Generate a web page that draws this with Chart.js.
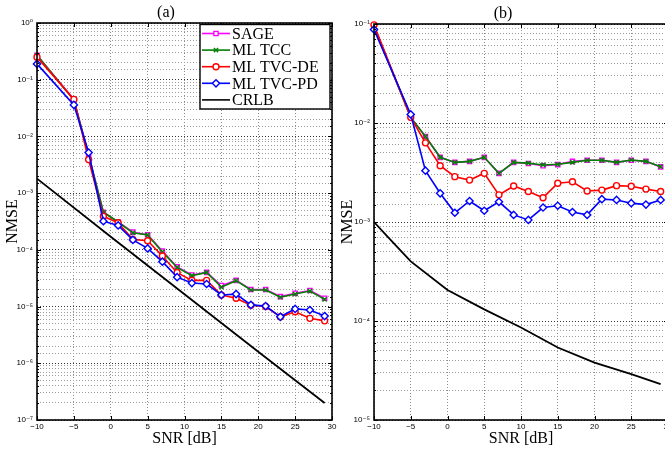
<!DOCTYPE html>
<html lang="en">
<head>
  <meta charset="UTF-8">
  <title>NMSE vs SNR</title>
  <script src="https://cdn.jsdelivr.net/npm/chart.js@4.4.1/dist/chart.umd.min.js"></script>
  <style>
    html, body { margin: 0; padding: 0; background: #fff; overflow: hidden; }
    #wrap { position: relative; width: 665px; height: 452px; overflow: hidden; }
    #chartA { position: absolute; left: 0; top: 0; }
    #chartB { position: absolute; left: 338px; top: 0; }
  </style>
</head>
<body>
<div id="wrap">
  <canvas id="chartA" width="340" height="452"></canvas>
  <canvas id="chartB" width="342" height="452"></canvas>
</div>
<script>
  // SNR points shared by both panels
  const snr = [-10, -5, -3, -1, 1, 3, 5, 7, 9, 11, 13, 15, 17, 19, 21, 23, 25, 27, 29];
  const seriesNames = ['SAGE', 'ML TCC', 'ML TVC-DE', 'ML TVC-PD', 'CRLB'];

  // panel (a)
  const sageA = [0.27, 0.045, 0.0047, 4.6e-4, 3.1e-4, 2.05e-4, 1.85e-4, 9.5e-5, 5.0e-5, 3.6e-5, 4.0e-5, 2.35e-5, 2.9e-5, 2.0e-5, 2.0e-5, 1.5e-5, 1.72e-5, 1.92e-5, 1.4e-5];
  const tccA = [0.27, 0.044, 0.0047, 4.6e-4, 3.1e-4, 2.0e-4, 1.83e-4, 9.2e-5, 4.9e-5, 3.5e-5, 4.0e-5, 2.2e-5, 2.86e-5, 1.96e-5, 1.96e-5, 1.46e-5, 1.66e-5, 1.88e-5, 1.34e-5];
  const deA = [0.25, 0.045, 0.0039, 3.9e-4, 3.0e-4, 1.53e-4, 1.45e-4, 7.8e-5, 3.96e-5, 2.9e-5, 2.9e-5, 1.6e-5, 1.4e-5, 1.06e-5, 1.0e-5, 6.6e-6, 8.1e-6, 6.2e-6, 5.6e-6];
  const pdA = [0.19, 0.036, 0.0052, 3.2e-4, 2.7e-4, 1.5e-4, 1.06e-4, 6.2e-5, 3.3e-5, 2.6e-5, 2.5e-5, 1.6e-5, 1.66e-5, 1.07e-5, 1.02e-5, 6.6e-6, 9.1e-6, 8.7e-6, 6.8e-6];
  const crlbSnrA = [-10, 0, 10, 20, 29];
  const crlbA = [1.8e-3, 1.7e-4, 1.65e-5, 1.6e-6, 2.0e-7];

  // panel (b)
  const sageB = [0.095, 0.0114, 0.0073, 0.0045, 0.0040, 0.0041, 0.0045, 0.0031, 0.0040, 0.0039, 0.0037, 0.0038, 0.0041, 0.0042, 0.0042, 0.0040, 0.0042, 0.0041, 0.0036];
  const tccB = [0.094, 0.0114, 0.0073, 0.0045, 0.0040, 0.0041, 0.0045, 0.0031, 0.0040, 0.00393, 0.00377, 0.00383, 0.0040, 0.0042, 0.0042, 0.0040, 0.00423, 0.0041, 0.00362];
  const deB = [0.098, 0.0114, 0.0063, 0.0037, 0.00287, 0.00265, 0.0031, 0.00188, 0.00231, 0.00203, 0.00176, 0.00246, 0.00255, 0.00206, 0.0021, 0.00233, 0.0023, 0.00215, 0.00203];
  const pdB = [0.088, 0.0122, 0.0033, 0.00195, 0.00124, 0.00163, 0.0013, 0.0016, 0.00118, 0.00105, 0.0014, 0.00146, 0.00126, 0.00118, 0.0017, 0.00167, 0.00155, 0.0015, 0.00167];
  const crlbSnrB = [-10, -8, -5, 0, 5, 10, 15, 20, 25, 29];
  const crlbB = [1.0e-3, 6.9e-4, 4.0e-4, 2.06e-4, 1.31e-4, 8.6e-5, 5.4e-5, 3.8e-5, 2.9e-5, 2.3e-5];

  const colors = ['#ff00ff', '#008000', '#ff0000', '#0000ff', '#000000'];
  const markers = ['rect', 'crossRot', 'circle', 'rectRot', false];

  const serif = '"Liberation Serif", "DejaVu Serif", serif';
  const sans = '"Liberation Sans", "DejaVu Sans", sans-serif';
  const sup = { '-': '⁻', '0': '⁰', '1': '¹', '2': '²', '3': '³', '4': '⁴', '5': '⁵', '6': '⁶', '7': '⁷', '8': '⁸', '9': '⁹' };

  function isDecade(v) {
    const e = Math.log10(v);
    return Math.abs(e - Math.round(e)) < 1e-6;
  }

  function makeSet(i, xs, ys) {
    return {
      label: seriesNames[i],
      data: xs.map((x, k) => ({ x: x, y: ys[k] })),
      borderColor: colors[i],
      backgroundColor: '#fff',
      borderWidth: i == 4 ? 1.8 : 1.6,
      pointStyle: markers[i],
      pointRadius: markers[i] ? (markers[i] == 'rectRot' ? 3.6 : 3) : 0,
      pointBorderColor: colors[i],
      pointBackgroundColor: '#fff',
      pointBorderWidth: 1.4,
      order: 5 - i,
      clip: false
    };
  }

  // axes box, inner tick marks and the legend
  const frame = {
    id: 'frame',
    afterDraw(chart, args, opts) {
      const ctx = chart.ctx;
      const a = chart.chartArea;
      const x = chart.scales.x, y = chart.scales.y;
      ctx.save();
      ctx.strokeStyle = '#000';
      ctx.lineWidth = 1;
      ctx.beginPath();
      x.ticks.forEach(t => {
        const px = Math.round(x.getPixelForValue(t.value)) + 0.5;
        ctx.moveTo(px, a.bottom); ctx.lineTo(px, a.bottom - 4);
        ctx.moveTo(px, a.top); ctx.lineTo(px, a.top + 4);
      });
      y.ticks.forEach(t => {
        const py = Math.round(y.getPixelForValue(t.value)) + 0.5;
        const len = isDecade(t.value) ? 4 : 2;
        ctx.moveTo(a.left, py); ctx.lineTo(a.left + len, py);
        ctx.moveTo(a.right, py); ctx.lineTo(a.right - len, py);
      });
      ctx.stroke();
      ctx.lineWidth = 1.6;
      ctx.strokeRect(a.left, a.top, a.right - a.left, a.bottom - a.top);

      if (opts.legend) {
        const lx = 200, ly = 24.5, lw = 130, lh = 84.5;
        ctx.fillStyle = '#fff';
        ctx.fillRect(lx, ly, lw, lh);
        ctx.lineWidth = 1.4;
        ctx.strokeRect(lx, ly, lw, lh);
        ctx.font = '16px ' + serif;
        ctx.textBaseline = 'middle';
        ctx.textAlign = 'left';
        chart.data.datasets.forEach((ds, i) => {
          const ry = 33.5 + i * 16.6;
          ctx.strokeStyle = ds.borderColor;
          ctx.lineWidth = 1.6;
          ctx.beginPath();
          ctx.moveTo(202, ry); ctx.lineTo(230, ry);
          ctx.stroke();
          if (ds.pointStyle) {
            ctx.fillStyle = '#fff';
            ctx.lineWidth = 1.4;
            Chart.helpers.drawPoint(ctx, { pointStyle: ds.pointStyle, radius: ds.pointRadius, rotation: 0, borderWidth: 1.4 }, 216, ry);
          }
          ctx.fillStyle = '#000';
          ctx.fillText(ds.label, 232, ry + 1);
        });
      }
      ctx.restore();
    }
  };

  function makeChart(id, title, sets, yMin, yMax, yWidth, pad, legend, titlePad) {
    return new Chart(document.getElementById(id), {
      type: 'line',
      data: { datasets: sets },
      plugins: [frame],
      options: {
        responsive: false,
        animation: false,
        events: [],
        layout: { padding: pad },
        plugins: {
          legend: { display: false },
          tooltip: { enabled: false },
          title: {
            display: true,
            text: title,
            color: '#000',
            font: { family: serif, size: 16, weight: 'normal' },
            padding: { top: 3, bottom: 0.8 }
          },
          frame: { legend: legend }
        },
        scales: {
          x: {
            type: 'linear',
            min: -10,
            max: 30,
            afterFit: s => { s.height = 32; },
            ticks: {
              stepSize: 5,
              maxRotation: 0,
              padding: 2,
              color: '#000',
              font: { family: sans, size: 8 },
              callback: v => String(v).replace('-', '−')
            },
            grid: { color: '#8c8c8c', lineWidth: 1, drawTicks: false },
            border: { display: false, dash: [1, 2] },
            title: {
              display: true,
              text: 'SNR [dB]',
              color: '#000',
              font: { family: serif, size: 16 },
              padding: { top: 0, bottom: 4 }
            }
          },
          y: {
            type: 'logarithmic',
            min: yMin,
            max: yMax,
            afterFit: s => { s.width = yWidth; },
            ticks: {
              autoSkip: false,
              padding: 4,
              color: '#000',
              font: { family: sans, size: 8 },
              callback: v => {
                if (!isDecade(v)) return '';
                const e = String(Math.round(Math.log10(v)));
                return '10' + e.split('').map(c => sup[c]).join('');
              }
            },
            grid: {
              lineWidth: 1,
              drawTicks: false,
              color: c => (c.tick && isDecade(c.tick.value)) ? '#333' : '#9e9e9e'
            },
            border: { display: false, dash: [1, 2] },
            title: {
              display: true,
              text: 'NMSE',
              color: '#000',
              font: { family: serif, size: 16 },
              padding: { top: titlePad, bottom: 0 }
            }
          }
        }
      }
    });
  }

  const setsA = [
    makeSet(0, snr, sageA),
    makeSet(1, snr, tccA),
    makeSet(2, snr, deA),
    makeSet(3, snr, pdA),
    makeSet(4, crlbSnrA, crlbA)
  ];
  const setsB = [
    makeSet(0, snr, sageB),
    makeSet(1, snr, tccB),
    makeSet(2, snr, deB),
    makeSet(3, snr, pdB),
    makeSet(4, crlbSnrB, crlbB)
  ];

  makeChart('chartA', '(a)', setsA, 1e-7, 1, 37, { left: 0, right: 8, top: 0, bottom: 0 }, true, 3);
  makeChart('chartB', '(b)', setsB, 1e-5, 1e-1, 36, { left: 0, right: 12, top: 1, bottom: 0 }, false, 0);
</script>
</body>
</html>
